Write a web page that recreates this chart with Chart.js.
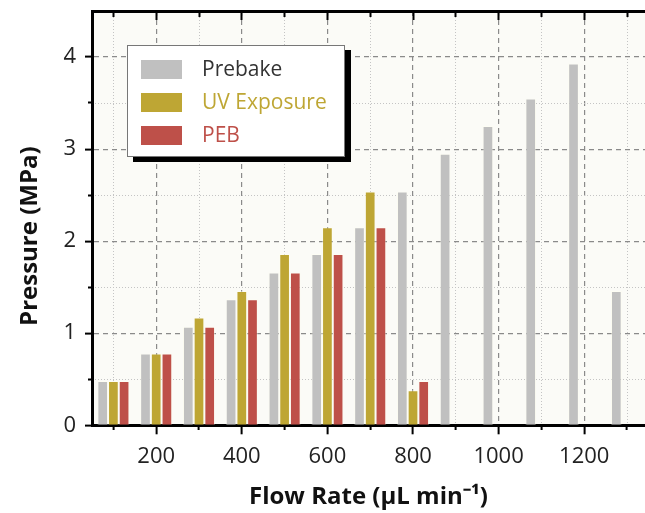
<!DOCTYPE html>
<html>
<head>
<meta charset="utf-8">
<script src="https://cdn.jsdelivr.net/npm/chart.js@4.4.1/dist/chart.umd.min.js"></script>
<style>
  body { margin: 0; background: #fff; }
  #wrap { position: relative; width: 645px; height: 513px; overflow: hidden; }
  #legend {
    position: absolute; left: 127px; top: 45px; width: 216px; height: 110px;
    background: #fff; border: 1px solid #777; box-shadow: 6px 5px 0 #000;
    font-family: "Open Sans", sans-serif; font-size: 21px;
  }
  .item { position: absolute; left: 13px; height: 19px; }
  .swatch { position: absolute; left: 0; top: 0; width: 41px; height: 19px; }
  .label { position: absolute; left: 61px; top: -6px; white-space: nowrap; line-height: 29px; }
</style>
</head>
<body>
<div id="wrap">
  <canvas id="chart" width="645" height="513"></canvas>
  <div id="legend"></div>
</div>
<script>
const flowRates = [100, 200, 300, 400, 500, 600, 700, 800, 900, 1000, 1100, 1200, 1300];
const prebake = [0.48, 0.78, 1.07, 1.37, 1.66, 1.86, 2.15, 2.54, 2.95, 3.25, 3.55, 3.93, 1.46];
const uvExposure = [0.48, 0.78, 1.17, 1.46, 1.86, 2.15, 2.54, 0.38, null, null, null, null, null];
const peb = [0.48, 0.78, 1.07, 1.37, 1.66, 1.86, 2.15, 0.48, null, null, null, null, null];

const seriesNames = ['Prebake', 'UV Exposure', 'PEB'];
const barColors = ['#c0c0c0', '#bea634', '#be5049'];
const textColors = ['#333333', '#bea634', '#be5049'];

const yTicks = [0, 0.5, 1, 1.5, 2, 2.5, 3, 3.5, 4];
const yMinorTicks = [0.5, 1.5, 2.5, 3.5];
const xMinorTicks = [100, 300, 500, 700, 900, 1100, 1300];

const X_MIN = 50, X_MAX = 1342, Y_MAX = 4.5;
const tickFont = { family: 'Open Sans', size: 22 };
const titleFont = { family: 'Open Sans', size: 24, weight: 'bold' };

const tickVal = c => (c && c.tick) ? c.tick.value : null;
const isMajorX = v => v !== null && v % 200 === 0;
const isMajorY = v => v !== null && Number.isInteger(v);
const noPad = s => { s.paddingTop = 0; s.paddingBottom = 0; s.paddingLeft = 0; s.paddingRight = 0; };

const plotBg = {
  id: 'plotBg',
  beforeDraw(chart) {
    const { ctx, chartArea: a } = chart;
    ctx.save();
    ctx.fillStyle = '#fbfbf7';
    ctx.fillRect(a.left, a.top, a.right - a.left, a.bottom - a.top);
    ctx.restore();
  }
};

const seriesData = [prebake, uvExposure, peb];

new Chart(document.getElementById('chart'), {
  type: 'bar',
  data: {
    labels: flowRates,
    datasets: seriesData.map((d, i) => ({
      label: seriesNames[i],
      data: d,
      backgroundColor: barColors[i],
      borderColor: 'rgba(255,255,240,0.45)',
      borderWidth: 1,
      categoryPercentage: 0.75,
      barPercentage: 1
    }))
  },
  options: {
    responsive: false,
    animation: false,
    devicePixelRatio: 1,
    layout: { padding: { top: 11, left: 0, right: 0, bottom: 0 } },
    plugins: { legend: { display: false }, tooltip: { enabled: false } },
    scales: {
      x: {
        type: 'linear', position: 'bottom', min: X_MIN, max: X_MAX, offset: false,
        afterBuildTicks: s => { s.ticks = flowRates.map(v => ({ value: v })); },
        afterFit: s => { s.height = 87.7; noPad(s); },
        ticks: {
          autoSkip: false, maxRotation: 0, padding: 9, color: '#222', font: tickFont,
          callback: v => isMajorX(v) ? String(v) : ''
        },
        grid: {
          offset: false,
          color: c => isMajorX(tickVal(c)) ? '#8a8a8a' : 'rgba(0,0,0,0)',
          lineWidth: 1.2,
          tickColor: '#000', tickWidth: 2, tickLength: 9,
          tickBorderDash: c => isMajorX(tickVal(c)) ? [] : [3, 100]
        },
        border: { color: '#000', width: 3, dash: [5, 4] },
        title: { display: true, text: 'Flow Rate (μL min⁻¹)', color: '#111', font: titleFont, padding: { top: 0, bottom: 1 } }
      },
      xMinor: {
        type: 'linear', position: 'bottom', min: X_MIN, max: X_MAX, offset: false,
        afterBuildTicks: s => { s.ticks = xMinorTicks.map(v => ({ value: v })); },
        afterFit: s => { s.height = 0; noPad(s); },
        ticks: { display: false },
        grid: { offset: false, color: '#c4c4c4', lineWidth: 1, drawTicks: false },
        border: { display: false, dash: [1, 2] }
      },
      xTop: {
        type: 'linear', position: { y: Y_MAX }, min: X_MIN, max: X_MAX, offset: false,
        afterBuildTicks: s => { s.ticks = flowRates.map(v => ({ value: v })); },
        ticks: { display: false },
        grid: {
          offset: false,
          drawOnChartArea: false,
          tickColor: '#000', tickWidth: 2, tickLength: 7,
          tickBorderDash: c => isMajorX(tickVal(c)) ? [] : [4, 100]
        },
        border: { color: '#000', width: 3 }
      },
      y: {
        position: 'left', min: 0, max: Y_MAX,
        afterBuildTicks: s => { s.ticks = yTicks.map(v => ({ value: v })); },
        afterFit: s => { s.width = 92; noPad(s); },
        ticks: {
          padding: 9, color: '#222', font: tickFont,
          callback: v => isMajorY(v) ? String(v) : ''
        },
        grid: {
          color: c => { const v = tickVal(c); return (isMajorY(v) && v > 0) ? '#8a8a8a' : 'rgba(0,0,0,0)'; },
          lineWidth: 1.2,
          tickColor: '#000', tickWidth: 2, tickLength: 7,
          tickBorderDash: c => isMajorY(tickVal(c)) ? [] : [0, 3, 6, 100]
        },
        border: { color: '#000', width: 3, dash: [5, 4] },
        title: { display: true, text: 'Pressure (MPa)\u2003\u2002', color: '#111', font: titleFont, padding: { top: 16, bottom: 0 } }
      },
      yMinor: {
        position: 'left', min: 0, max: Y_MAX,
        afterBuildTicks: s => { s.ticks = yMinorTicks.map(v => ({ value: v })); },
        afterFit: s => { s.width = 0; noPad(s); },
        ticks: { display: false },
        grid: { color: '#c4c4c4', lineWidth: 1, drawTicks: false },
        border: { display: false, dash: [1, 2] }
      }
    }
  },
  plugins: [plotBg]
});

// legend box
const legend = document.getElementById('legend');
seriesNames.forEach((name, i) => {
  const item = document.createElement('div');
  item.className = 'item';
  item.style.top = (14 + i * 33) + 'px';
  const sw = document.createElement('div');
  sw.className = 'swatch';
  sw.style.background = barColors[i];
  const lb = document.createElement('div');
  lb.className = 'label';
  lb.style.color = textColors[i];
  lb.textContent = name;
  item.appendChild(sw);
  item.appendChild(lb);
  legend.appendChild(item);
});
</script>
</body>
</html>
